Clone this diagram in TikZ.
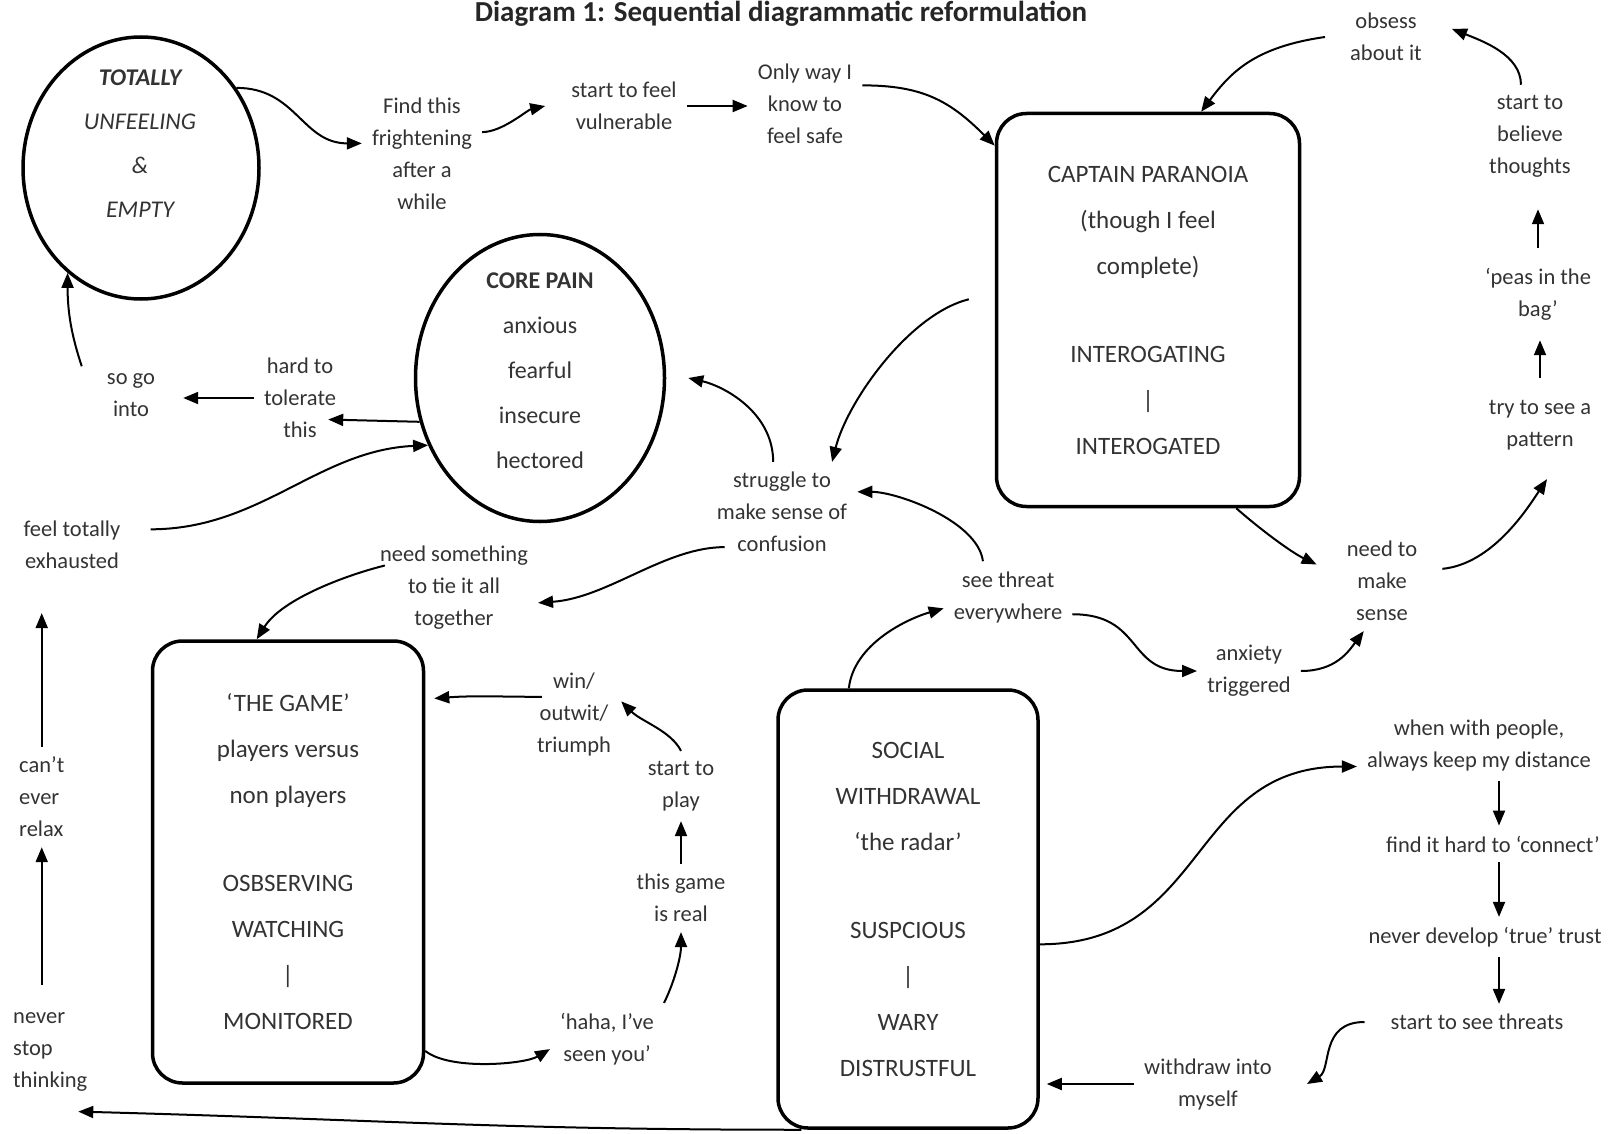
\documentclass[tikz,border=0pt]{standalone}
\usepackage{fontspec}
\setmainfont{Carlito}
\usetikzlibrary{arrows.meta,shapes.geometric}
\tikzset{
  lbl/.style={align=center, font=\fontsize{22.5}{32}\selectfont, text=black!80, inner sep=10pt},
  stage/.style={draw, line width=3.5pt, rounded corners=30pt, align=center, font=\fontsize{25}{46}\selectfont, text=black!80},
  oval/.style={draw, ellipse, line width=3.5pt, inner sep=0pt},
  arr/.style={-{Triangle[length=15pt,width=12pt]}, line width=2pt},
}
\begin{document}
\begin{tikzpicture}[x=1pt,y=-1pt]
\useasboundingbox (0,0) rectangle (1614,1134);
\node[font=\bfseries\fontsize{29}{31}\selectfont, text=black!85] (title) at (781,14) {Diagram 1: Sequential diagrammatic reformulation};

\node[oval, minimum width=236pt, minimum height=262pt] (unfeel) at (141,168) {};
\node[align=center, font=\itshape\fontsize{24}{44}\selectfont, text=black!80] (unfeeltxt) at (140,144) {\textbf{TOTALLY}\\UNFEELING\\\&\\EMPTY};
\node[oval, minimum width=249pt, minimum height=287pt] (core) at (540,378) {};
\node[align=center, font=\fontsize{24}{45}\selectfont, text=black!80] (coretxt) at (540,371) {\textbf{CORE PAIN}\\anxious\\fearful\\insecure\\hectored};

\node[stage, minimum width=303pt, minimum height=393pt] (captain) at (1148,310) {CAPTAIN PARANOIA\\(though I feel\\complete)\\[42pt]INTEROGATING\\|\\INTEROGATED};
\node[stage, minimum width=271pt, minimum height=442pt] (game) at (288,862) {‘THE GAME’\\players versus\\non players\\[42pt]OSBSERVING\\WATCHING\\|\\MONITORED};
\node[stage, minimum width=260pt, minimum height=438pt] (social) at (908,909) {SOCIAL\\WITHDRAWAL\\‘the radar’\\[42pt]SUSPCIOUS\\|\\WARY\\DISTRUSTFUL};

\node[lbl] (find) at (422,154) {Find this\\frightening\\after a\\while};
\node[lbl] (vuln) at (624,106) {start to feel\\vulnerable};
\node[lbl] (safe) at (805,104) {Only way I\\know to\\feel safe};
\node[lbl] (obsess) at (1386,37) {obsess\\about it};
\node[lbl] (believe) at (1530,136) {start to\\believe\\thoughts};
\node[lbl] (peas) at (1538,294) {‘peas in the\\bag’};
\node[lbl] (pattern) at (1540,425) {try to see a\\pattern};
\node[lbl] (sense) at (1382,581) {need to\\make\\sense};
\node[lbl] (anxiety) at (1249,671) {anxiety\\triggered};
\node[lbl] (threat) at (1008,597) {see threat\\everywhere};
\node[lbl] (struggle) at (782,512) {struggle to\\make sense of\\confusion};
\node[lbl] (hard) at (300,398) {hard to\\tolerate\\this};
\node[lbl] (sogo) at (131,395) {so go\\into};
\node[lbl] (exhausted) at (72,545) {feel totally\\exhausted};
\node[lbl] (tie) at (454,588) {need something\\to tie it all\\together};
\node[lbl] (win) at (574,714) {win/\\outwit/\\triumph};
\node[lbl] (play) at (681,786) {start to\\play};
\node[lbl] (real) at (681,898) {this game\\is real};
\node[lbl] (haha) at (607,1039) {‘haha, I’ve\\seen you’};
\node[lbl] (people) at (1479,745) {when with people,\\always keep my distance};
\node[lbl] (connect) at (1493,844) {find it hard to ‘connect’};
\node[lbl] (trust) at (1485,937) {never develop ‘true’ trust};
\node[lbl] (threats) at (1477,1022) {start to see threats};
\node[lbl] (withdraw) at (1208,1084) {withdraw into\\myself};
\node[lbl, align=left, anchor=west] (relax) at (9,797) {can’t\\ever\\relax};
\node[lbl, align=left, anchor=west] (never) at (3,1052) {never\\stop\\thinking};
\coordinate (col) at (1499,0);

\draw[arr] (unfeel.40) .. controls +(60,0) and +(-60,0) .. (find.170);
\draw[arr] (find.20) .. controls +(20,0) and +(-18,4) .. ([xshift=-16pt]vuln.west);
\draw[arr] (vuln.east) -- (vuln.east -| safe.west);
\draw[arr] (safe.18) .. controls +(60,0) and +(-45,-45) .. (captain.133);
\draw[arr] ([xshift=-15pt]obsess.west) .. controls +(-70,10) and +(30,-40) .. (captain.75);
\draw[arr] (believe.100) .. controls +(0,-30) and +(30,12) .. ([xshift=20pt]obsess.10);
\draw[arr, shorten <=10pt, shorten >=22pt] (peas.north) -- (peas.north |- believe.south);
\draw[arr, shorten <=12pt, shorten >=10pt] (pattern.north) -- (pattern.north |- peas.south);
\draw[arr] (captain.-66) .. controls +(25,22) and +(-25,-12) .. ([xshift=-20pt]sense.160);
\draw[arr] ([xshift=15pt]sense.15) .. controls +(50,-5) and +(-20,30) .. ([xshift=7pt,yshift=-19pt]pattern.south);
\draw[arr] (threat.-15) .. controls +(70,0) and +(-70,0) .. (anxiety.west);
\draw[arr] (anxiety.east) .. controls +(35,0) and +(-15,20) .. (sense.-110);
\draw[arr] (threat.125) .. controls +(-5,-40) and +(40,0) .. (struggle.15);
\draw[arr] (social.105) .. controls +(5,-45) and +(-35,10) .. (threat.190);
\draw[arr] (struggle.100) .. controls +(0,-50) and +(35,8) .. ([xshift=22pt]core.east);
\draw[arr] ([xshift=-26pt]captain.176) .. controls +(-60,15) and +(15,-60) .. (struggle.45);
\draw[arr] ([xshift=18pt]struggle.205) .. controls +(-60,0) and +(70,-5) .. (tie.-10);
\draw[arr] ([xshift=15pt]tie.165) .. controls +(-40,10) and +(25,-40) .. (game.98);
\draw[arr] (core.200) -- ([xshift=-18pt]hard.-25);
\draw[arr] (hard.west) -- ([xshift=18pt,yshift=-3pt]sogo.east);
\draw[arr] ([xshift=-15pt]sogo.140) .. controls +(-10,-30) and +(0,40) .. (unfeel.235);
\draw[arr] ([xshift=20pt]exhausted.15) .. controls +(110,0) and +(-110,5) .. (core.211);
\draw[arr, shorten >=34pt] (relax.north) -- (relax.north |- exhausted.south);
\draw[arr, shorten <=17pt] (never.north -| relax.south) -- (relax.south);
\draw[arr] ([xshift=15pt]win.160) .. controls +(-40,0) and +(40,-3) .. ([xshift=9pt]game.50);
\draw[arr] (play.north) .. controls +(-10,-20) and +(20,20) .. (win.15);
\draw[arr] (real.north) -- (real.north |- play.south);
\draw[arr] (haha.north east) .. controls +(10,-20) and +(0,25) .. (real.south);
\draw[arr] (game.-54) .. controls +(25,20) and +(-25,15) .. (haha.190);
\draw[arr] (social.-15) .. controls +(170,0) and +(-170,0) .. (people.190);
\draw[arr] (people.south -| col) -- (connect.north -| col);
\draw[arr] (connect.south -| col) -- (trust.north -| col);
\draw[arr] (trust.south -| col) -- (threats.north -| col);
\draw[arr] ([xshift=-16pt]threats.west) .. controls +(-45,0) and +(25,-15) .. ([xshift=25pt]withdraw.east);
\draw[arr, shorten >=7pt] (withdraw.west) -- (withdraw.west -| social.east);
\draw[arr] ([xshift=25pt]social.south west) .. controls +(-300,0) and +(300,8) .. ([xshift=28pt,yshift=-10pt]never.south);
\end{tikzpicture}
\end{document}
